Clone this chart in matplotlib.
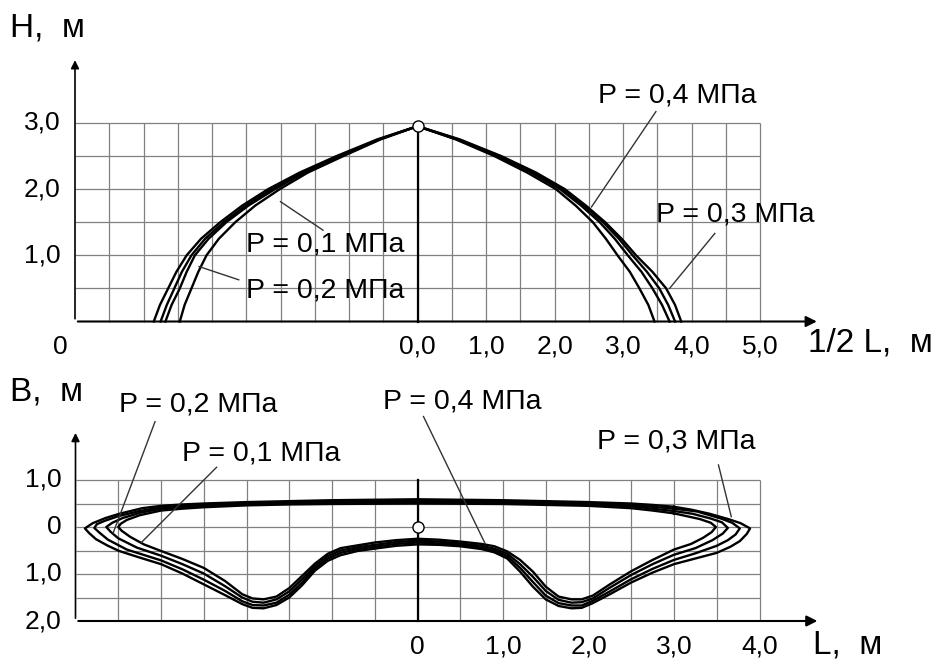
import numpy as np
import matplotlib
matplotlib.use("Agg")
import matplotlib.pyplot as plt

plt.rcParams['font.family'] = ['Liberation Sans', 'DejaVu Sans']

# ---- top panel: H(1/2 L) for P = 0.1 .. 0.4 MPa
pressures = ["0,1", "0,2", "0,3", "0,4"]
h_levels = [0.0, 0.25, 0.5, 0.75, 1.0, 1.25, 1.5, 1.75, 2.0, 2.25, 2.5, 2.75, 2.95]
h_left = [
    [-3.47, -3.40, -3.30, -3.20, -3.08, -2.90, -2.66, -2.37, -2.01, -1.60, -1.08, -0.54, 0.0],
    [-3.68, -3.59, -3.47, -3.37, -3.25, -3.05, -2.79, -2.47, -2.08, -1.65, -1.11, -0.56, 0.0],
    [-3.75, -3.66, -3.55, -3.44, -3.30, -3.10, -2.83, -2.51, -2.13, -1.69, -1.14, -0.57, 0.0],
    [-3.85, -3.76, -3.64, -3.52, -3.37, -3.16, -2.88, -2.56, -2.18, -1.72, -1.18, -0.59, 0.0],
]
h_right = [
    [3.46, 3.37, 3.24, 3.10, 2.92, 2.75, 2.56, 2.31, 2.02, 1.60, 1.12, 0.56, 0.0],
    [3.68, 3.57, 3.43, 3.27, 3.07, 2.88, 2.66, 2.39, 2.08, 1.66, 1.16, 0.58, 0.0],
    [3.76, 3.66, 3.53, 3.35, 3.14, 2.94, 2.71, 2.43, 2.12, 1.70, 1.19, 0.60, 0.0],
    [3.85, 3.76, 3.63, 3.43, 3.19, 2.98, 2.74, 2.46, 2.15, 1.73, 1.22, 0.62, 0.0],
]
top_xticks = [0, 1, 2, 3, 4, 5]
top_xlabels = ["0,0", "1,0", "2,0", "3,0", "4,0", "5,0"]
top_yticks = [1, 2, 3]
top_ylabels = ["1,0", "2,0", "3,0"]

# ---- bottom panel: B(L) contours (inner -> outer)
upper_L = [-3.0, -2.75, -2.5, -2.0, -1.5, -1.0, 0.0, 1.0, 1.5, 2.0, 2.5, 2.75, 3.0]
upper_B = [
    [0.35, 0.39, 0.42, 0.46, 0.48, 0.49, 0.50, 0.49, 0.47, 0.45, 0.40, 0.35, 0.29],
    [0.39, 0.42, 0.45, 0.49, 0.51, 0.52, 0.53, 0.52, 0.50, 0.48, 0.44, 0.39, 0.34],
    [0.42, 0.45, 0.48, 0.51, 0.53, 0.55, 0.56, 0.55, 0.53, 0.51, 0.47, 0.43, 0.39],
    [0.45, 0.48, 0.50, 0.53, 0.55, 0.57, 0.59, 0.57, 0.55, 0.53, 0.50, 0.47, 0.43],
]
lower_L = [-3.0, -2.75, -2.5, -2.25, -2.05, -1.93, -1.8, -1.65, -1.5, -1.35, -1.2,
           -1.05, -0.9, -0.7, -0.5, -0.25, 0.0, 0.25, 0.5, 0.75, 0.9, 1.05, 1.2,
           1.35, 1.5, 1.65, 1.8, 1.92, 2.05, 2.25, 2.5, 2.75, 3.0]
lower_B = [
    [-0.51, -0.68, -0.87, -1.15, -1.43, -1.52, -1.54, -1.48, -1.30, -1.04, -0.78,
     -0.57, -0.45, -0.39, -0.33, -0.28, -0.25, -0.27, -0.31, -0.36, -0.41, -0.52,
     -0.70, -0.95, -1.27, -1.48, -1.54, -1.54, -1.46, -1.22, -0.94, -0.70, -0.48],
    [-0.61, -0.79, -0.99, -1.26, -1.50, -1.59, -1.61, -1.54, -1.37, -1.11, -0.83,
     -0.62, -0.50, -0.43, -0.38, -0.32, -0.29, -0.31, -0.35, -0.40, -0.46, -0.57,
     -0.79, -1.06, -1.36, -1.55, -1.61, -1.60, -1.52, -1.29, -1.02, -0.79, -0.59],
    [-0.71, -0.90, -1.12, -1.36, -1.58, -1.66, -1.67, -1.61, -1.44, -1.18, -0.88,
     -0.67, -0.55, -0.47, -0.42, -0.36, -0.33, -0.35, -0.38, -0.44, -0.50, -0.62,
     -0.87, -1.17, -1.46, -1.62, -1.67, -1.67, -1.57, -1.37, -1.11, -0.89, -0.70],
    [-0.79, -0.99, -1.22, -1.45, -1.64, -1.72, -1.73, -1.66, -1.50, -1.24, -0.93,
     -0.72, -0.60, -0.51, -0.46, -0.40, -0.37, -0.38, -0.41, -0.47, -0.54, -0.67,
     -0.95, -1.27, -1.54, -1.68, -1.73, -1.72, -1.62, -1.43, -1.18, -0.97, -0.79],
]
# left caps: from the upper edge round the tip to the lower edge
capL_x = [
    [-3.25, -3.40, -3.47, -3.50, -3.46, -3.36, -3.20],
    [-3.25, -3.45, -3.57, -3.64, -3.59, -3.50, -3.28],
    [-3.25, -3.50, -3.66, -3.75, -3.78, -3.72, -3.62, -3.40],
    [-3.22, -3.49, -3.65, -3.80, -3.89, -3.84, -3.76, -3.62, -3.49, -3.25],
]
capL_y = [
    [0.25, 0.15, 0.07, 0.00, -0.08, -0.21, -0.37],
    [0.30, 0.19, 0.09, 0.00, -0.10, -0.24, -0.44],
    [0.34, 0.23, 0.13, 0.06, -0.02, -0.12, -0.27, -0.48],
    [0.40, 0.28, 0.19, 0.08, -0.03, -0.13, -0.26, -0.40, -0.51, -0.65],
]
# right caps: from the lower edge round the tip to the upper edge
capR_x = [
    [3.20, 3.34, 3.44, 3.49, 3.43, 3.30, 3.15],
    [3.25, 3.45, 3.57, 3.63, 3.56, 3.43, 3.22],
    [3.25, 3.50, 3.63, 3.72, 3.77, 3.68, 3.55, 3.27],
    [3.25, 3.50, 3.66, 3.77, 3.85, 3.89, 3.78, 3.65, 3.42, 3.20],
]
capR_y = [
    [-0.36, -0.23, -0.11, 0.00, 0.09, 0.17, 0.23],
    [-0.45, -0.28, -0.14, -0.02, 0.10, 0.18, 0.28],
    [-0.56, -0.40, -0.28, -0.16, -0.03, 0.09, 0.18, 0.33],
    [-0.67, -0.55, -0.42, -0.30, -0.15, -0.03, 0.08, 0.16, 0.28, 0.37],
]
bot_xticks = [0, 1, 2, 3, 4]
bot_xlabels = ["0", "1,0", "2,0", "3,0", "4,0"]
bot_yticks = [1, 0, -1, -2]
bot_ylabels = ["1,0", "0", "1,0", "2,0"]

W, H = 941, 659
fig = plt.figure(figsize=(W / 100, H / 100), dpi=100)

grid_c = '#808080'
lab_fs = 19
p_fs = 20.5
ax_fs = 24

# ---------------- top panel ----------------
ax1 = fig.add_axes([0, (H - 360) / H, 1, 360 / H])
ax1.set_xlim(-417.5 / 68.5, (W - 417.5) / 68.5)
ax1.set_ylim((321.5 - 360) / 66.2, 321.5 / 66.2)
ax1.axis('off')

ax1.vlines(np.arange(-4.5, 5.01, 0.5), 0, 3, color=grid_c, lw=0.9, zorder=1)
ax1.hlines(np.arange(0.5, 3.01, 0.5), -5, 5, color=grid_c, lw=0.9, zorder=1)
ax1.plot([0, 0], [0, 3], color='k', lw=1.6, zorder=2)

for i in range(len(pressures)):
    xs = h_left[i] + h_right[i][::-1][1:]
    ys = h_levels + h_levels[::-1][1:]
    ax1.plot(xs, ys, color='k', lw=1.7, solid_joinstyle='round', zorder=3)
ax1.plot([0], [2.95], 'o', ms=8, mfc='white', mec='k', mew=1.0, zorder=5)

# axes arrows
ax1.annotate('', xy=(5.87, 0), xytext=(-5.0, 0),
             arrowprops=dict(arrowstyle='-|>', color='k', lw=1.5, mutation_scale=16))
ax1.annotate('', xy=(-5.0, 3.99), xytext=(-5.0, 0),
             arrowprops=dict(arrowstyle='-|>', color='k', lw=1.2, mutation_scale=12))

for v, s in zip(top_yticks, top_ylabels):
    ax1.text(-5.21, v, s, ha='right', va='center', fontsize=lab_fs)
for v, s in zip(top_xticks, top_xlabels):
    ax1.text(v, -0.385, s, ha='center', va='center', fontsize=lab_fs)
ax1.text(-5.22, -0.385, "0", ha='center', va='center', fontsize=lab_fs)
ax1.text(5.70, -0.33, "1/2 L,  м", ha='left', va='center', fontsize=ax_fs)
ax1.text(-5.95, 4.43, "H,  м", ha='left', va='center', fontsize=ax_fs)

# leader lines and labels (top)
lead = dict(color='#333333', lw=1.0, zorder=4)
ax1.plot([-2.0, -1.38], [1.81, 1.38], **lead)
ax1.text(-2.51, 1.17, "P = 0,1 МПа", ha='left', va='center', fontsize=p_fs)
ax1.plot([-3.19, -2.61], [0.83, 0.63], **lead)
ax1.text(-2.51, 0.47, "P = 0,2 МПа", ha='left', va='center', fontsize=p_fs)
ax1.plot([2.54, 3.48], [1.73, 3.17], **lead)
ax1.text(2.64, 3.42, "P = 0,4 МПа", ha='left', va='center', fontsize=p_fs)
ax1.plot([3.68, 4.34], [0.50, 1.33], **lead)
ax1.text(3.48, 1.61, "P = 0,3 МПа", ha='left', va='center', fontsize=p_fs)

# ---------------- bottom panel ----------------
ax2 = fig.add_axes([0, 0, 1, (H - 360) / H])
ax2.set_xlim(-417.5 / 85.5, (W - 417.5) / 85.5)
ax2.set_ylim((527 - H) / 47, (527 - 360) / 47)
ax2.axis('off')

ax2.vlines(np.arange(-3.5, 4.01, 0.5), -2, 1, color=grid_c, lw=0.9, zorder=1)
ax2.hlines(np.arange(-1.5, 1.01, 0.5), -4, 4, color=grid_c, lw=0.9, zorder=1)
ax2.plot([0, 0], [-2, 1], color='k', lw=1.6, zorder=2)

for i in range(len(pressures)):
    xs = upper_L[::-1] + capL_x[i] + lower_L + capR_x[i] + [upper_L[-1]]
    ys = upper_B[i][::-1] + capL_y[i] + lower_B[i] + capR_y[i] + [upper_B[i][-1]]
    ax2.plot(xs, ys, color='k', lw=1.7, solid_joinstyle='round', zorder=3)
ax2.plot([0], [0], 'o', ms=8, mfc='white', mec='k', mew=1.0, zorder=5)

ax2.annotate('', xy=(4.71, -2), xytext=(-4.0, -2),
             arrowprops=dict(arrowstyle='-|>', color='k', lw=1.5, mutation_scale=16))
ax2.annotate('', xy=(-4.0, 2.06), xytext=(-4.0, -2),
             arrowprops=dict(arrowstyle='-|>', color='k', lw=1.2, mutation_scale=12))

for v, s in zip(bot_yticks, bot_ylabels):
    ax2.text(-4.16, v, s, ha='right', va='center', fontsize=lab_fs)
for v, s in zip(bot_xticks, bot_xlabels):
    ax2.text(v, -2.55, s, ha='center', va='center', fontsize=lab_fs)
ax2.text(4.63, -2.51, "L,  м", ha='left', va='center', fontsize=ax_fs)
ax2.text(-4.77, 2.88, "B,  м", ha='left', va='center', fontsize=ax_fs)

ax2.plot([-3.07, -3.56], [2.24, -0.13], **lead)
ax2.text(-3.49, 2.60, "P = 0,2 МПа", ha='left', va='center', fontsize=p_fs)
ax2.plot([-2.35, -3.23], [1.27, -0.33], **lead)
ax2.text(-2.76, 1.57, "P = 0,1 МПа", ha='left', va='center', fontsize=p_fs)
ax2.plot([0.07, 0.79], [2.35, -0.35], **lead)
ax2.text(-0.40, 2.67, "P = 0,4 МПа", ha='left', va='center', fontsize=p_fs)
ax2.plot([3.52, 3.67], [1.32, 0.22], **lead)
ax2.text(2.10, 1.82, "P = 0,3 МПа", ha='left', va='center', fontsize=p_fs)

fig.savefig("out.png", dpi=100, facecolor='white')
